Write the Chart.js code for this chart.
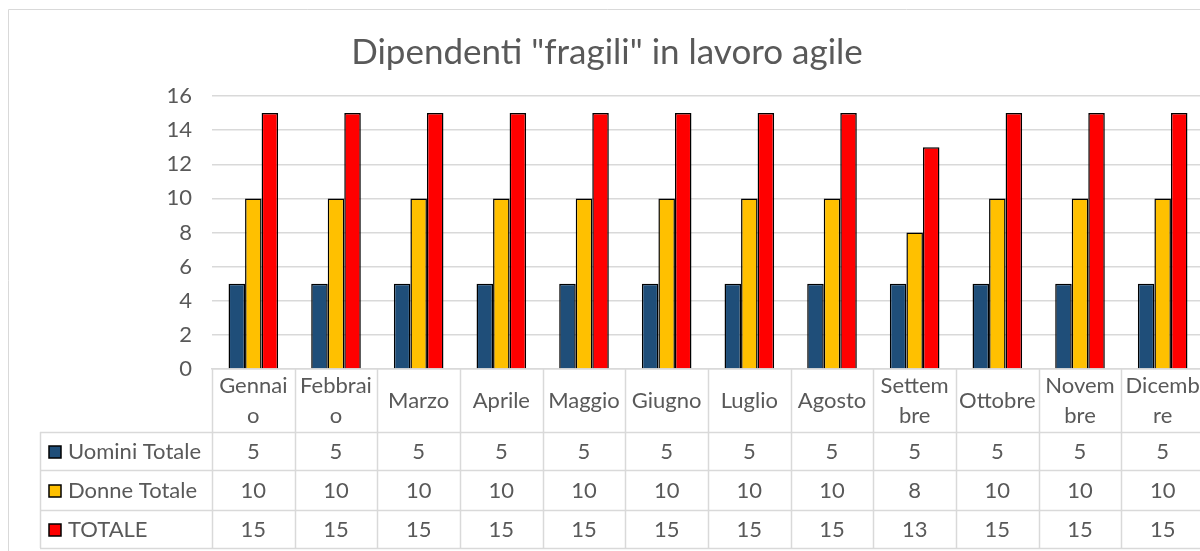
<!DOCTYPE html>
<html><head><meta charset="utf-8">
<script src="https://cdn.jsdelivr.net/npm/chart.js@4"></script>
<style>html,body{margin:0;padding:0;overflow:hidden;background:#fff;width:1200px;height:551px}#w{position:absolute;left:0;top:0;width:1206px;height:551px}</style>
</head><body><div id="w"><canvas id="c" width="1206" height="551"></canvas></div>
<script>
const chartTitle = 'Dipendenti "fragili" in lavoro agile';
const categories = ["Gennaio","Febbraio","Marzo","Aprile","Maggio","Giugno","Luglio","Agosto","Settembre","Ottobre","Novembre","Dicembre"];
const headerLines = [["Gennai","o"],["Febbrai","o"],["Marzo"],["Aprile"],["Maggio"],["Giugno"],["Luglio"],["Agosto"],["Settem","bre"],["Ottobre"],["Novem","bre"],["Dicemb","re"]];
const seriesNames = ["Uomini Totale","Donne Totale","TOTALE"];
const uomini = [5,5,5,5,5,5,5,5,5,5,5,5];
const donne = [10,10,10,10,10,10,10,10,8,10,10,10];
const totale = [15,15,15,15,15,15,15,15,13,15,15,15];
const seriesColors = ["#1F4E79","#FFC000","#FF0000"];
const yTicks = [0,2,4,6,8,10,12,14,16];

const FONT = "Lato, 'Open Sans', sans-serif";
const TXT = "#595959";
const GRID = "#d9d9d9";
const FS = 22;

const tablePlugin = {
  id: 'tbl',
  afterDraw(chart) {
    const ctx = chart.ctx;
    const xs = chart.scales.x;
    const area = chart.chartArea;
    const n = categories.length;
    const step = (area.right - area.left) / n;
    const top = area.bottom;
    const rows = [top, 432, 470, 510, 548];
    const legendLeft = 40;
    ctx.save();
    ctx.strokeStyle = GRID; ctx.lineWidth = 1;
    ctx.beginPath(); ctx.moveTo(8.5, 551); ctx.lineTo(8.5, 9.5); ctx.lineTo(1206, 9.5); ctx.stroke();
    ctx.fillStyle = TXT; ctx.font = "35px " + FONT; ctx.textAlign = "center"; ctx.textBaseline = "middle";
    ctx.fillText(chartTitle, 607, 53);
    ctx.strokeStyle = GRID; ctx.lineWidth = 1.5;
    ctx.beginPath();
    for (let i = 0; i <= n; i++) {
      const x = Math.round(area.left + i * step) + 0.5;
      ctx.moveTo(x, top); ctx.lineTo(x, rows[4]);
    }
    ctx.moveTo(legendLeft + 0.5, rows[1]); ctx.lineTo(legendLeft + 0.5, rows[4]);
    for (let r = 1; r <= 4; r++) {
      ctx.moveTo(legendLeft, rows[r] + 0.5); ctx.lineTo(1206, rows[r] + 0.5);
    }
    ctx.stroke();
    ctx.fillStyle = TXT; ctx.font = FS + "px " + FONT; ctx.textAlign = "center"; ctx.textBaseline = "middle";
    const hc = (rows[0] + rows[1]) / 2;
    headerLines.forEach((lines, i) => {
      const cx = xs.getPixelForValue(i);
      if (lines.length === 1) ctx.fillText(lines[0], cx, hc);
      else { ctx.fillText(lines[0], cx, hc - 15); ctx.fillText(lines[1], cx, hc + 15); }
    });
    const data = [uomini, donne, totale];
    for (let r = 0; r < 3; r++) {
      const cy = (rows[r + 1] + rows[r + 2]) / 2 + 1;
      ctx.fillStyle = seriesColors[r]; ctx.strokeStyle = "#000"; ctx.lineWidth = 1.5;
      ctx.fillRect(49, cy - 6, 12, 12); ctx.strokeRect(49, cy - 6, 12, 12);
      ctx.fillStyle = TXT; ctx.textAlign = "left";
      ctx.fillText(seriesNames[r], 68, cy);
      ctx.textAlign = "center";
      data[r].forEach((v, i) => ctx.fillText(String(v), xs.getPixelForValue(i), cy));
    }
    ctx.restore();
  }
};

new Chart(document.getElementById('c'), {
  type: 'bar',
  data: {
    labels: categories,
    datasets: [
      { label: seriesNames[0], data: uomini, backgroundColor: seriesColors[0], borderColor: "#000", borderWidth: 1.5 },
      { label: seriesNames[1], data: donne, backgroundColor: seriesColors[1], borderColor: "#000", borderWidth: 1.5 },
      { label: seriesNames[2], data: totale, backgroundColor: seriesColors[2], borderColor: "#000", borderWidth: 1.5 }
    ]
  },
  options: {
    responsive: false, maintainAspectRatio: false, animation: false, devicePixelRatio: 1,
    layout: { padding: { top: 96, bottom: 174, left: 0, right: 2 } },
    datasets: { bar: { categoryPercentage: 0.6, barPercentage: 1.0 } },
    plugins: { legend: { display: false }, title: { display: false }, tooltip: { enabled: false } },
    scales: {
      x: { ticks: { display: false }, grid: { display: false }, border: { display: true, color: GRID, width: 1.5 } },
      y: {
        min: 0, max: 16,
        afterFit(s) { s.width = 212; },
        afterBuildTicks(s) { s.ticks = yTicks.map(v => ({ value: v })); },
        ticks: { color: TXT, font: { family: FONT, size: FS }, padding: 20 },
        grid: { color: GRID, lineWidth: 1.5, drawTicks: false },
        border: { display: false }
      }
    }
  },
  plugins: [tablePlugin]
});
</script>
</body></html>
